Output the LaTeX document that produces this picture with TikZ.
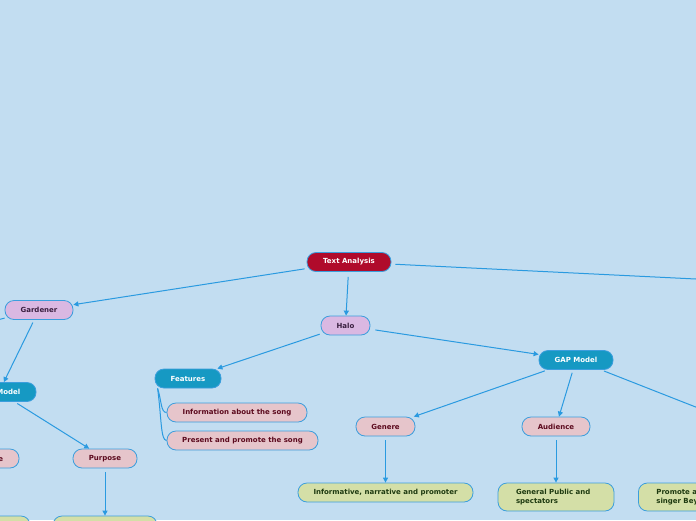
\documentclass[tikz,border=0pt]{standalone}
\usepackage{fontspec}
\newfontfamily\dv{DejaVu Sans}
\usetikzlibrary{arrows.meta}
\definecolor{bg}{HTML}{C2DDF1}
\definecolor{redf}{HTML}{B00B2B}
\definecolor{purf}{HTML}{DAB8E2}
\definecolor{tealf}{HTML}{1699C3}
\definecolor{pinkf}{HTML}{E6C5CB}
\definecolor{greenf}{HTML}{D4DFA7}
\definecolor{bord}{HTML}{3B9EDD}
\definecolor{linec}{HTML}{2A9AE0}
\definecolor{purt}{HTML}{3A1F40}
\definecolor{pinkt}{HTML}{5C0A1E}
\definecolor{greent}{HTML}{1E3A10}
\tikzset{
  box/.style={draw=bord, line width=0.8pt, rounded corners=9pt, minimum height=19pt,
    inner sep=0pt, font=\dv\bfseries\fontsize{7}{8.5}\selectfont},
  rootbox/.style={box, fill=redf, text=white},
  purbox/.style={box, fill=purf, text=purt},
  tealbox/.style={box, fill=tealf, text=white},
  pinkbox/.style={box, fill=pinkf, text=pinkt},
  greenbox/.style={box, fill=greenf, text=greent},
  conn/.style={draw=linec, line width=1pt},
  arr/.style={conn, -{Triangle[width=5pt,length=5pt]}},
}
\begin{document}
\begin{tikzpicture}[x=1pt,y=-1pt]
\fill[bg] (0,0) rectangle (696,520);
\useasboundingbox (0,0) rectangle (696,520);
\clip (0,0) rectangle (696,520);

% nodes
\node[rootbox, minimum width=84pt] (ta) at (349,262) {Text Analysis};
\node[purbox, minimum width=68pt] (gard) at (39,310) {Gardener};
\node[purbox, minimum width=49pt] (halo) at (345.5,325.5) {Halo};
\node[tealbox, minimum width=74pt] (gapl) at (-1,392) {GAP Model};
\node[pinkbox, minimum width=68pt] (audl) at (-15,458.5) {Audience};
\node[pinkbox, minimum width=64pt] (purl) at (105,458.5) {Purpose};
\node[greenbox, minimum width=104pt, minimum height=28pt] (pgl) at (105,530) {};
\node[greenbox, minimum width=116pt, minimum height=28pt] (agl) at (-28,530) {};
\node[tealbox, minimum width=66pt] (feat) at (188,378.5) {Features};
\node[pinkbox, minimum width=140pt] (info) at (237,412.5) {Information about the song};
\node[pinkbox, minimum width=151pt] (pres) at (242.5,440.5) {Present and promote the song};
\node[tealbox, minimum width=74pt] (gapr) at (576,360) {GAP Model};
\node[pinkbox, minimum width=59pt] (gen) at (385.5,426.5) {Genere};
\node[pinkbox, minimum width=68pt] (aud) at (556,426.5) {Audience};
\node[greenbox, minimum width=175pt] (infn) at (385.5,492.5) {Informative, narrative and promoter};
\node[greenbox, minimum width=116pt, minimum height=28pt, align=left, text width=80pt, inner xsep=18pt] (gp) at (556,497) {General Public and\\spectators};
\node[greenbox, minimum width=116pt, minimum height=28pt, align=left, text width=80pt, inner xsep=18pt, anchor=west] (prom) at (638,497) {Promote and sell\\singer Beyonc\'e};

\coordinate (tar) at (700,279.2);
\coordinate (gardl) at (-20,324);
\coordinate (gapro) at (700,408.7);

% connectors
\draw[arr, shorten <=2pt] (ta) -- (gard);
\draw[arr, shorten <=5pt] (ta) -- (halo);
\draw[conn, shorten <=4pt] (ta) -- (tar);
\draw[conn] (gard) -- (gardl);
\draw[arr, shorten <=3pt] (gard) -- (gapl);
\draw[arr, shorten <=3pt] (gapl) -- (purl);
\draw[arr, shorten <=4pt] (purl) -- (pgl);
\draw[arr, shorten <=1pt] (halo) -- (feat);
\draw[arr, shorten <=5pt] (halo) -- (gapr);
\coordinate (fs) at ([xshift=3pt]feat.south west);
\draw[conn] (fs) .. controls +(4,12) and +(-6,0) .. (info.west);
\draw[conn] (fs) .. controls +(4,30) and +(-6,0) .. (pres.west);
\draw[arr, shorten <=3pt] (gapr) -- (gen);
\draw[arr, shorten <=3pt] (gapr) -- (aud);
\draw[conn, shorten <=3pt] (gapr) -- (gapro);
\draw[arr, shorten <=4pt] (gen) -- (infn);
\draw[arr, shorten <=4pt] (aud) -- (gp);
\end{tikzpicture}
\end{document}
